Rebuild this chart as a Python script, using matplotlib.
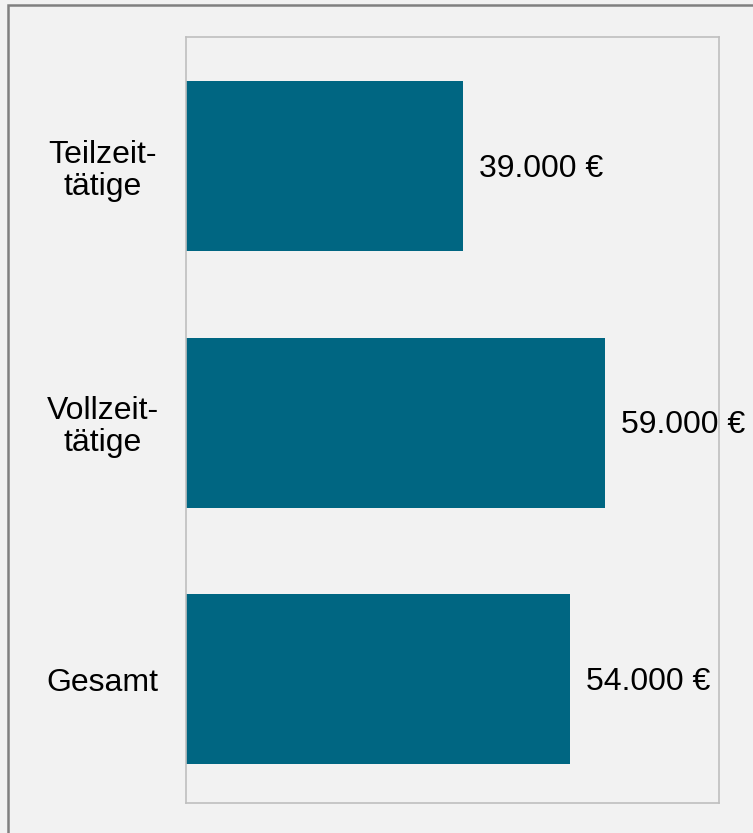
import matplotlib.pyplot as plt
from matplotlib.patches import Rectangle

plt.rcParams['font.family'] = ['Liberation Sans', 'DejaVu Sans']

categories = ['Gesamt', 'Vollzeit-\ntätige', 'Teilzeit-\ntätige']
values = [54000, 59000, 39000]
value_labels = ['54.000 €', '59.000 €', '39.000 €']

bar_color = '#006682'
bg_color = '#f2f2f2'

fig = plt.figure(figsize=(7.53, 8.33), dpi=100, facecolor=bg_color)
ax = fig.add_axes([186 / 753, 1 - 803 / 833, (719 - 186) / 753, (803 - 37) / 833])
ax.set_facecolor(bg_color)

# outer frame, only left and top edges are visible in the picture
fig.patches.append(Rectangle((8 / 753, -0.1), 1.2, 1 - 5 / 833 + 0.1,
                             transform=fig.transFigure, fill=False,
                             edgecolor='#808080', linewidth=1.8))

pos = list(range(len(categories)))
ax.barh(pos, values, height=0.663, color=bar_color)

for p, v, lab in zip(pos, values, value_labels):
    ax.annotate(lab, (v, p), xytext=(11.5, -2), textcoords='offset points',
                va='center', ha='left', fontsize=23, color='black')

ax.set_xlim(0, 75000)
ax.set_ylim(-0.483, 2.503)
ax.set_xticks([])
ax.set_yticks(pos)
ax.set_yticklabels(categories, fontsize=23)
ax.tick_params(axis='y', length=0, pad=60)
for t in ax.get_yticklabels():
    t.set_ha('center')
    t.set_va('center_baseline')
    t.set_multialignment('center')
    t.set_linespacing(1.1)

for s in ax.spines.values():
    s.set_color('#bfbfbf')
    s.set_linewidth(1.2)

fig.savefig('out.png', dpi=100, facecolor=bg_color)
